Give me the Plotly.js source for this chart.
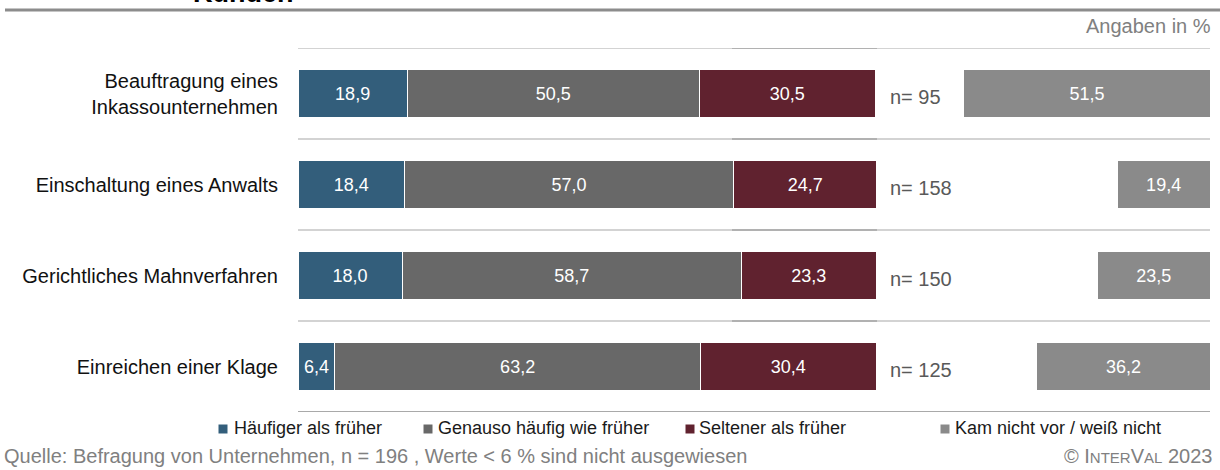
<!DOCTYPE html>
<html>
<head>
<meta charset="utf-8">
<script src="https://cdn.plot.ly/plotly-3.0.1.min.js"></script>
<style>html,body{margin:0;padding:0;background:#fff;}#chart{width:1220px;height:470px;}</style>
</head>
<body>
<div id="chart"></div>
<script>
// ---- data ----
const categories = ['Beauftragung eines<br>Inkassounternehmen', 'Einschaltung eines Anwalts', 'Gerichtliches Mahnverfahren', 'Einreichen einer Klage'];
const seriesNames = ['Häufiger als früher', 'Genauso häufig wie früher', 'Seltener als früher', 'Kam nicht vor / weiß nicht'];
const haeufiger = [18.9, 18.4, 18.0, 6.4];
const genauso = [50.5, 57.0, 58.7, 63.2];
const seltener = [30.5, 24.7, 23.3, 30.4];
const kamNicht = [51.5, 19.4, 23.5, 36.2];
const nValues = [95, 158, 150, 125];

// ---- style ----
const colors = ['#335e7b', '#686868', '#60222f', '#8a8a8a'];
const FONT = 'Liberation Sans, Arial, sans-serif';
const W = 1220, H = 470, L = 298, R = 10, T = 48, B = 58;
const PW = W - L - R, PH = H - T - B;
const px = x => (x - L) / PW;
const py = y => (H - B - y) / PH;
const fmt = v => v.toFixed(1).replace('.', ',');

function barTrace(vals, i, xaxis) {
  return {
    type: 'bar', orientation: 'h', name: seriesNames[i],
    y: categories, x: vals, xaxis: xaxis, yaxis: 'y',
    marker: {color: colors[i], line: {color: '#ffffff', width: 1}},
    text: vals.map(fmt), textposition: 'inside', insidetextanchor: 'middle',
    textfont: {family: FONT, size: 18, color: '#ffffff'},
    hoverinfo: 'skip', showlegend: false, width: 0.53
  };
}

const traces = [
  barTrace(haeufiger, 0, 'x'),
  barTrace(genauso, 1, 'x'),
  barTrace(seltener, 2, 'x'),
  barTrace(kamNicht, 3, 'x2')
];

const shapes = [];
const annotations = [];

// top rule
shapes.push({type: 'line', xref: 'paper', yref: 'paper', x0: px(5), x1: px(1220), y0: py(10), y1: py(10), line: {color: '#8c8c8c', width: 3}});
// separators between categories
for (let i = 0; i < categories.length; i++) {
  shapes.push({type: 'line', xref: 'paper', yref: 'y', x0: 0, x1: 1, y0: i - 0.5, y1: i - 0.5, line: {color: '#c4c4c4', width: 1.5}});
  shapes.push({type: 'line', xref: 'paper', yref: 'y', x0: px(732), x1: px(877), y0: i - 0.5, y1: i - 0.5, line: {color: '#a6a6a6', width: 1.5}});
}
shapes.push({type: 'line', xref: 'paper', yref: 'y', x0: 0, x1: 1, y0: categories.length - 0.5, y1: categories.length - 0.5, line: {color: '#8c8c8c', width: 1.5}});

// n= labels
nValues.forEach((n, i) => {
  annotations.push({xref: 'paper', yref: 'y', x: px(888), y: categories[i], yshift: -3, xanchor: 'left', yanchor: 'middle',
    text: 'n= ' + n, showarrow: false, font: {family: FONT, size: 20, color: '#595959'}});
});

// custom legend
const legSq = [223, 428, 690, 945];
const legTx = [232, 436, 697, 953];
seriesNames.forEach((nm, i) => {
  shapes.push({type: 'rect', xref: 'paper', yref: 'paper', xsizemode: 'pixel', ysizemode: 'pixel',
    xanchor: px(legSq[i]), yanchor: py(429), x0: -4.5, x1: 4.5, y0: -4.5, y1: 4.5,
    fillcolor: colors[i], line: {width: 0}});
  annotations.push({xref: 'paper', yref: 'paper', x: px(legTx[i]), y: py(428), xanchor: 'left', yanchor: 'middle',
    text: nm, showarrow: false, font: {family: FONT, size: 18, color: '#1a1a1a'}});
});

// title fragment, unit note, source, copyright
annotations.push({xref: 'paper', yref: 'paper', x: px(243), y: py(-7), xanchor: 'center', yanchor: 'middle',
  text: '<b>Kunden</b>', showarrow: false, font: {family: FONT, size: 27, color: '#000000'}});
annotations.push({xref: 'paper', yref: 'paper', x: px(1213), y: py(26), xanchor: 'right', yanchor: 'middle',
  text: 'Angaben in %', showarrow: false, font: {family: FONT, size: 20, color: '#808080'}});
annotations.push({xref: 'paper', yref: 'paper', x: px(2), y: py(456), xanchor: 'left', yanchor: 'middle',
  text: 'Quelle: Befragung von Unternehmen, n = 196 , Werte &lt; 6 % sind nicht ausgewiesen', showarrow: false,
  font: {family: FONT, size: 20, color: '#808080'}});
annotations.push({xref: 'paper', yref: 'paper', x: px(1214), y: py(456), xanchor: 'right', yanchor: 'middle',
  text: '© I<span style="font-size:15px">NTER</span>V<span style="font-size:15px">AL</span> 2023', showarrow: false,
  font: {family: FONT, size: 20, color: '#808080'}});

const layout = {
  width: W, height: H,
  margin: {l: L, r: R, t: T, b: B, pad: 0},
  paper_bgcolor: '#ffffff', plot_bgcolor: 'rgba(0,0,0,0)',
  barmode: 'stack', bargap: 0.47,
  showlegend: false,
  font: {family: FONT, size: 20, color: '#111111'},
  xaxis: {domain: [0, px(876)], range: [0, 100], visible: false, fixedrange: true},
  xaxis2: {domain: [px(732), 1], range: [100, 0], visible: false, anchor: 'y', fixedrange: true},
  yaxis: {type: 'category', categoryorder: 'array', categoryarray: categories, range: [3.5, -0.5],
    showgrid: false, zeroline: false, showline: false,
    ticks: 'outside', ticklen: 15, tickcolor: 'rgba(0,0,0,0)',
    tickfont: {family: FONT, size: 20, color: '#111111'}, fixedrange: true},
  shapes: shapes,
  annotations: annotations
};

Plotly.newPlot('chart', traces, layout, {displayModeBar: false, staticPlot: true});
</script>
</body>
</html>
